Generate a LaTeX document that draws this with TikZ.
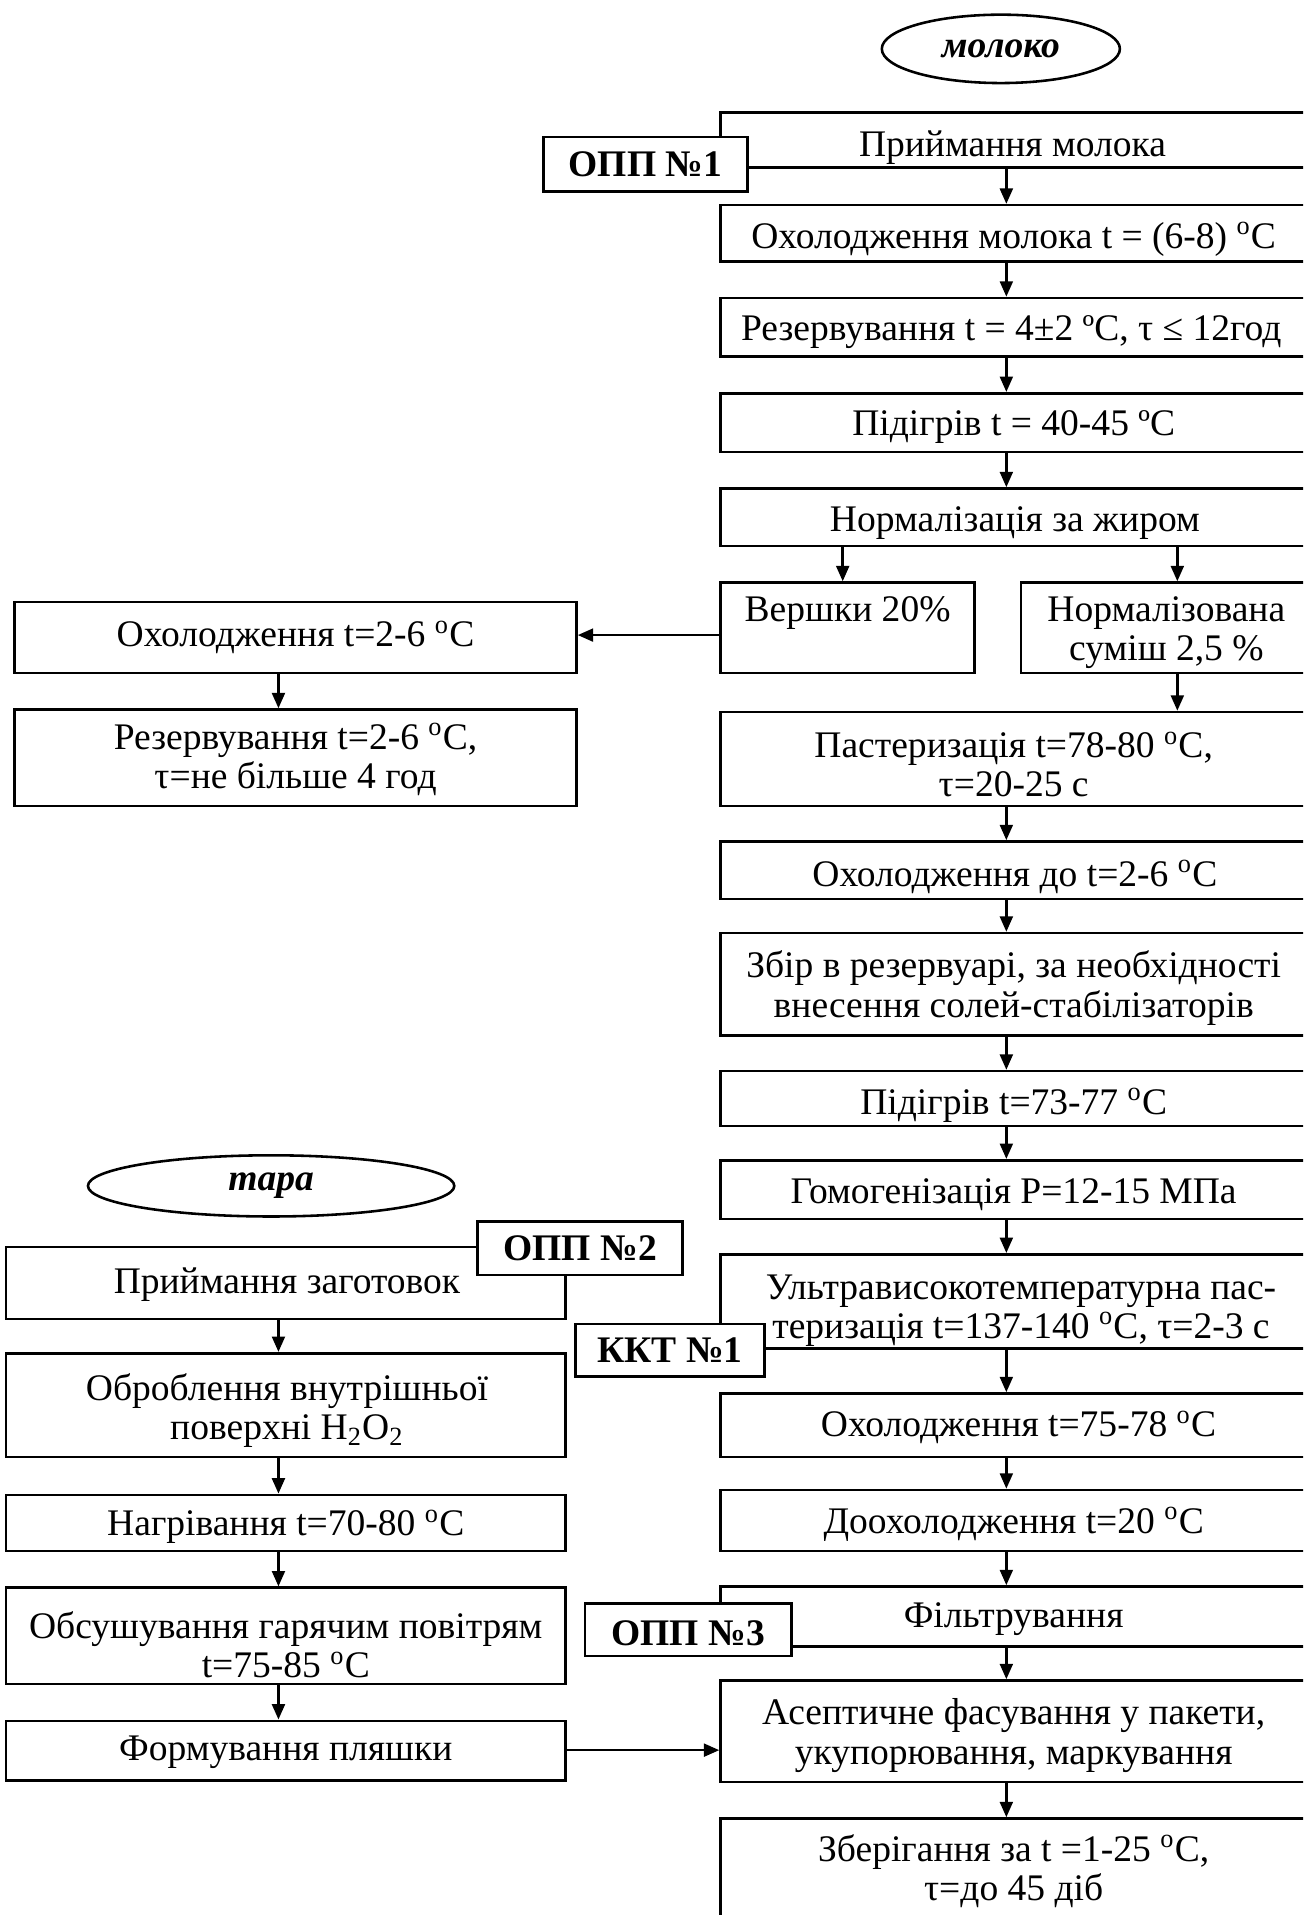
\documentclass[tikz,border=0pt]{standalone}
\usepackage{fontspec}
\setmainfont{Liberation Serif}
\usetikzlibrary{arrows.meta,fit,shapes.geometric}
\tikzset{
 box/.style={draw, line width=1pt, inner sep=0pt, fill=white},
 tagbox/.style={draw, line width=1pt, fill=white, inner sep=0pt},
 tagtxt/.style={inner sep=0pt, font=\fontsize{14.6}{15.2}\selectfont\bfseries},
 txt/.style={font=\fontsize{14.6}{15.2}\selectfont, align=center, inner sep=0pt},
 arr/.style={line width=1pt, -{Triangle[length=6pt,width=5pt]}},
 oval/.style={draw, ellipse, line width=1pt, inner sep=0pt, font=\fontsize{14.6}{15.2}\selectfont\bfseries\itshape},
}
\begin{document}
\begin{tikzpicture}[x=0.475pt,y=-0.475pt]
\useasboundingbox (0,0) rectangle (1067,1568);
\clip (0,0) rectangle (1067,1568);
% ovals
\node[oval, minimum width=92.6pt, minimum height=26.6pt] (milk) at (819.5,40) {молоко};
\node[oval, minimum width=142.5pt, minimum height=23.8pt] (tara) at (222,971) {тара};
% right column boxes
\node[box, fit={(590,92)(1075,137)}] (b1) {};
\node[box, fit={(590,168)(1075,214)}] (b2) {};
\node[box, fit={(590,244)(1075,292)}] (b3) {};
\node[box, fit={(590,322)(1075,370)}] (b4) {};
\node[box, fit={(590,400)(1075,447)}] (b5) {};
\node[box, fit={(590,477)(798,551)}] (b6) {};
\node[box, fit={(836,477)(1075,551)}] (b7) {};
\node[box, fit={(590,583)(1075,660)}] (b10) {};
\node[box, fit={(590,689)(1075,736)}] (b11) {};
\node[box, fit={(590,764)(1075,848)}] (b12) {};
\node[box, fit={(590,877)(1075,922)}] (b13) {};
\node[box, fit={(590,950)(1075,998)}] (b14) {};
\node[box, fit={(590,1027)(1075,1104)}] (b15) {};
\node[box, fit={(590,1141)(1075,1193)}] (b16) {};
\node[box, fit={(590,1220)(1075,1270)}] (b17) {};
\node[box, fit={(590,1299)(1075,1348)}] (b18) {};
\node[box, fit={(590,1376)(1075,1459)}] (b19) {};
\node[box, fit={(590,1489)(1075,1580)}] (b20) {};
% left boxes
\node[box, fit={(12,493)(472,551)}] (l8) {};
\node[box, fit={(12,581)(472,660)}] (l9) {};
\node[box, fit={(5,1021)(463,1080)}] (L1) {};
\node[box, fit={(5,1108)(463,1193)}] (L2) {};
\node[box, fit={(5,1224)(463,1270)}] (L3) {};
\node[box, fit={(5,1300)(463,1379)}] (L4) {};
\node[box, fit={(5,1409)(463,1458)}] (L5) {};
% texts
\node[txt] (t1) at (829,121) {Приймання молока};
\node[txt] (t2) at (830,196) {Охолодження молока t = (6-8) \textsuperscript{o}C};
\node[txt] (t3) at (828,272) {Резервування t = 4±2 ºC, τ ≤ 12год};
\node[txt] (t4) at (830,350) {Підігрів t = 40-45 ºC};
\node[txt] (t5) at (831,428) {Нормалізація за жиром};
\node[txt] (t6) at (694,502) {Вершки 20\%};
\node[txt] (t7) at (955,518) {Нормалізована\\суміш 2,5 \%};
\node[txt] (t10) at (830,626) {Пастеризація t=78-80 \textsuperscript{o}C,\\τ=20-25 с};
\node[txt] (t11) at (831,718) {Охолодження до t=2-6 \textsuperscript{o}C};
\node[txt] (t12) at (830,809) {Збір в резервуарі, за необхідності\\внесення солей-стабілізаторів};
\node[txt] (t13) at (830,905) {Підігрів t=73-77 \textsuperscript{o}C};
\node[txt] (t14) at (830,978) {Гомогенізація P=12-15 МПа};
\node[txt] (t15) at (836,1073) {Ультрависокотемпературна пас-\\теризація t=137-140 \textsuperscript{o}C, τ=2-3 с};
\node[txt] (t16) at (834,1169) {Охолодження t=75-78 \textsuperscript{o}C};
\node[txt] (t17) at (830,1248) {Доохолодження t=20 \textsuperscript{o}C};
\node[txt] (t18) at (830,1326) {Фільтрування};
\node[txt] (t19) at (830,1421) {Асептичне фасування у пакети,\\укупорювання, маркування};
\node[txt] (t20) at (830,1532) {Зберігання за t =1-25 \textsuperscript{o}C,\\τ=до 45 діб};
\node[txt] (t8) at (242,522) {Охолодження t=2-6 \textsuperscript{o}C};
\node[txt] (t9) at (242,622) {Резервування t=2-6 \textsuperscript{o}C,\\τ=не більше 4 год};
\node[txt] (u1) at (235,1052) {Приймання заготовок};
\node[txt] (u2) at (235,1155) {Оброблення внутрішньої\\поверхні H\textsubscript{2}O\textsubscript{2}};
\node[txt] (u3) at (234,1250) {Нагрівання t=70-80 \textsuperscript{o}C};
\node[txt] (u4) at (234,1347) {Обсушування гарячим повітрям\\t=75-85 \textsuperscript{o}C};
\node[txt] (u5) at (234,1435) {Формування пляшки};
% tags
\node[tagbox, fit={(445,112)(612,157)}] (k1) {};
\node[tagtxt] (k1t) at (k1.center) {ОПП №1};
\node[tagbox, fit={(391,1000)(559,1044)}] (k2) {};
\node[tagtxt] (k2t) at (k2.center) {ОПП №2};
\node[tagbox, fit={(471,1084)(626,1127)}] (k3) {};
\node[tagtxt] (k3t) at (k3.center) {ККТ №1};
\node[tagbox, fit={(479,1313)(648,1356)}] (k4) {};
\node[tagtxt] (k4t) at ([yshift=-1.5pt]k4.center) {ОПП №3};
% axes
\coordinate (ax) at (824,0);
\coordinate (axa) at (690,0);
\coordinate (axb) at (964,0);
\coordinate (axl) at (228,0);
\coordinate (ya) at (0,520);
\coordinate (yb) at (0,1433);
% arrows right
\draw[arr] (b1.south -| ax) -- (b2.north -| ax);
\draw[arr] (b2.south -| ax) -- (b3.north -| ax);
\draw[arr] (b3.south -| ax) -- (b4.north -| ax);
\draw[arr] (b4.south -| ax) -- (b5.north -| ax);
\draw[arr] (b5.south -| axa) -- (b6.north -| axa);
\draw[arr] (b5.south -| axb) -- (b7.north -| axb);
\draw[arr] (b7.south -| axb) -- (b10.north -| axb);
\draw[arr] (b10.south -| ax) -- (b11.north -| ax);
\draw[arr] (b11.south -| ax) -- (b12.north -| ax);
\draw[arr] (b12.south -| ax) -- (b13.north -| ax);
\draw[arr] (b13.south -| ax) -- (b14.north -| ax);
\draw[arr] (b14.south -| ax) -- (b15.north -| ax);
\draw[arr] (b15.south -| ax) -- (b16.north -| ax);
\draw[arr] (b16.south -| ax) -- (b17.north -| ax);
\draw[arr] (b17.south -| ax) -- (b18.north -| ax);
\draw[arr] (b18.south -| ax) -- (b19.north -| ax);
\draw[arr] (b19.south -| ax) -- (b20.north -| ax);
% arrows left
\draw[arr] (b6.west |- ya) -- (l8.east |- ya);
\draw[arr] (l8.south -| axl) -- (l9.north -| axl);
\draw[arr] (L1.south -| axl) -- (L2.north -| axl);
\draw[arr] (L2.south -| axl) -- (L3.north -| axl);
\draw[arr] (L3.south -| axl) -- (L4.north -| axl);
\draw[arr] (L4.south -| axl) -- (L5.north -| axl);
\draw[arr] (L5.east |- yb) -- (b19.west |- yb);
\end{tikzpicture}
\end{document}
